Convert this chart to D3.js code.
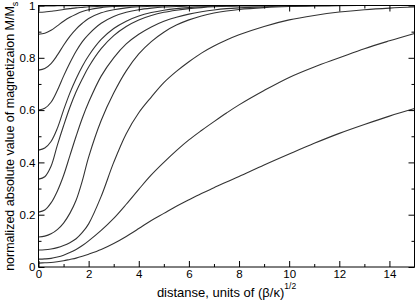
<!DOCTYPE html>
<html>
<head>
<meta charset="utf-8">
<script src="https://cdn.jsdelivr.net/npm/d3@7"></script>
<style>
  body { margin: 0; background: #fff; }
  text { font-family: "Liberation Sans", Arial, sans-serif; }
</style>
</head>
<body>
<script>
// distance samples (units of (beta/kappa)^1/2), shared by all curves
var xs = [0, 0.25, 0.5, 0.75, 1, 1.25, 1.5, 1.75, 2, 2.5, 3, 3.5, 4, 4.5,
          5, 5.5, 6, 6.5, 7, 7.5, 8, 9, 10, 11, 12, 13, 14, 15];

// |M|/Ms, one array per curve (bottom to top)
var c1 = [0.015, 0.016, 0.017, 0.020, 0.024, 0.029, 0.034, 0.041, 0.049,
          0.067, 0.090, 0.117, 0.147, 0.178, 0.205, 0.232, 0.257, 0.281,
          0.303, 0.325, 0.346, 0.390, 0.432, 0.473, 0.511, 0.545, 0.577,
          0.606];
var c2 = [0.030, 0.031, 0.033, 0.038, 0.045, 0.055, 0.067, 0.082, 0.100,
          0.140, 0.186, 0.240, 0.297, 0.352, 0.400, 0.445, 0.486, 0.522,
          0.556, 0.589, 0.620, 0.675, 0.725, 0.765, 0.800, 0.835, 0.865,
          0.893];
var c3 = [0.065, 0.066, 0.069, 0.074, 0.082, 0.093, 0.108, 0.132, 0.165,
          0.270, 0.400, 0.510, 0.590, 0.650, 0.705, 0.748, 0.785, 0.818,
          0.845, 0.868, 0.888, 0.920, 0.945, 0.962, 0.975, 0.984, 0.990,
          0.994];
var c4 = [0.115, 0.118, 0.127, 0.143, 0.168, 0.205, 0.255, 0.330, 0.420,
          0.560, 0.665, 0.750, 0.815, 0.862, 0.898, 0.925, 0.945, 0.960,
          0.971, 0.979, 0.985, 0.992, 0.996, 0.998, 0.999, 1, 1, 1];
var c5 = [0.210, 0.218, 0.245, 0.290, 0.350, 0.425, 0.500, 0.570, 0.630,
          0.730, 0.800, 0.853, 0.890, 0.918, 0.940, 0.955, 0.967, 0.976,
          0.983, 0.988, 0.991, 0.995, 0.998, 0.999, 1, 1, 1, 1];
var c6 = [0.336, 0.345, 0.385, 0.465, 0.540, 0.610, 0.670, 0.720, 0.765,
          0.835, 0.885, 0.920, 0.945, 0.962, 0.974, 0.982, 0.988, 0.992,
          0.995, 0.997, 0.998, 0.999, 1, 1, 1, 1, 1, 1];
var c7 = [0.447, 0.455, 0.480, 0.530, 0.600, 0.665, 0.720, 0.768, 0.808,
          0.870, 0.912, 0.940, 0.960, 0.973, 0.982, 0.988, 0.992, 0.995,
          0.997, 0.998, 0.999, 1, 1, 1, 1, 1, 1, 1];
var c8 = [0.600, 0.607, 0.630, 0.675, 0.730, 0.780, 0.825, 0.862, 0.890,
          0.932, 0.958, 0.974, 0.984, 0.990, 0.994, 0.996, 0.998, 0.999,
          1, 1, 1, 1, 1, 1, 1, 1, 1, 1];
var c9 = [0.753, 0.759, 0.778, 0.810, 0.848, 0.882, 0.910, 0.932, 0.950,
          0.972, 0.984, 0.991, 0.995, 0.997, 0.998, 0.999, 1, 1, 1, 1, 1,
          1, 1, 1, 1, 1, 1, 1];
var c10 = [0.890, 0.894, 0.905, 0.922, 0.940, 0.955, 0.967, 0.977, 0.984,
           0.992, 0.996, 0.998, 0.999, 1, 1, 1, 1, 1, 1, 1, 1, 1, 1, 1, 1,
           1, 1, 1];
var c11 = [0.974, 0.975, 0.978, 0.981, 0.985, 0.988, 0.991, 0.993, 0.995,
           0.997, 0.998, 0.999, 1, 1, 1, 1, 1, 1, 1, 1, 1, 1, 1, 1, 1, 1,
           1, 1];
var c12 = [0.998, 0.998, 0.998, 0.999, 0.999, 0.999, 0.999, 1, 1, 1, 1, 1,
           1, 1, 1, 1, 1, 1, 1, 1, 1, 1, 1, 1, 1, 1, 1, 1];

var curves = [c1, c2, c3, c4, c5, c6, c7, c8, c9, c10, c11, c12];

// tick values
var xMajor = [0, 2, 4, 6, 8, 10, 12, 14];
var xMinor = [1, 3, 5, 7, 9, 11, 13, 15];
var yMajor = [0, 0.2, 0.4, 0.6, 0.8, 1];
var yMinor = [0.1, 0.3, 0.5, 0.7, 0.9];

var margin = {top: 5.5, right: 0.5, bottom: 34, left: 38.5},
    width = 415 - margin.left - margin.right,
    height = 301 - margin.top - margin.bottom;

var svg = d3.select("body").append("svg")
    .attr("width", 415)
    .attr("height", 301)
    .append("g")
    .attr("transform", "translate(" + margin.left + "," + margin.top + ")");

var xScale = d3.scaleLinear().domain([0, 15]).range([0, width]);
var yScale = d3.scaleLinear().domain([0, 1]).range([height, 0]);

svg.append("clipPath").attr("id", "clip")
    .append("rect")
    .attr("width", width)
    .attr("height", height);

// the curves
var line = d3.line()
    .x(function(d, i) { return xScale(xs[i]); })
    .y(function(d) { return yScale(d); })
    .curve(d3.curveCatmullRom.alpha(0.5));

svg.append("g")
    .attr("clip-path", "url(#clip)")
    .selectAll("path")
    .data(curves)
    .enter()
    .append("path")
    .attr("d", line)
    .attr("fill", "none")
    .attr("stroke", "#333")
    .attr("stroke-width", 1.1);

// ticks on all four sides, pointing inwards
function addAxis(axis, tx, ty) {
    svg.append("g")
        .attr("transform", "translate(" + tx + "," + ty + ")")
        .call(axis)
        .call(function(g) {
            g.select(".domain").remove();
            g.selectAll("line").attr("stroke", "#000");
        });
}

var tickFont = function(g) {
    g.select(".domain").remove();
    g.selectAll("text")
        .attr("font-size", "11.5px")
        .attr("font-family", "Liberation Sans, Arial, sans-serif")
        .attr("fill", "#000");
    g.selectAll("line").attr("stroke", "#000");
};

// bottom
svg.append("g")
    .attr("transform", "translate(0," + height + ")")
    .call(d3.axisBottom(xScale).tickValues(xMajor).tickSizeInner(-6)
          .tickSizeOuter(0).tickPadding(3).tickFormat(d3.format("d")))
    .call(tickFont);
addAxis(d3.axisBottom(xScale).tickValues(xMinor).tickSize(-3)
        .tickFormat(""), 0, height);
// top
addAxis(d3.axisTop(xScale).tickValues(xMajor).tickSize(-6)
        .tickFormat(""), 0, 0);
addAxis(d3.axisTop(xScale).tickValues(xMinor).tickSize(-3)
        .tickFormat(""), 0, 0);
// left
svg.append("g")
    .call(d3.axisLeft(yScale).tickValues(yMajor).tickSizeInner(-6)
          .tickSizeOuter(0).tickPadding(3)
          .tickFormat(function(d) {
              return d === 0 || d === 1 ? d : d3.format(".1f")(d);
          }))
    .call(tickFont);
addAxis(d3.axisLeft(yScale).tickValues(yMinor).tickSize(-3)
        .tickFormat(""), 0, 0);
// right
addAxis(d3.axisRight(yScale).tickValues(yMajor).tickSize(-6)
        .tickFormat(""), width, 0);
addAxis(d3.axisRight(yScale).tickValues(yMinor).tickSize(-3)
        .tickFormat(""), width, 0);

// frame
svg.append("rect")
    .attr("width", width)
    .attr("height", height)
    .attr("fill", "none")
    .attr("stroke", "#000")
    .attr("stroke-width", 1);

// axis titles
var xTitle = svg.append("text")
    .attr("x", width / 2)
    .attr("y", height + 29.5)
    .attr("text-anchor", "middle")
    .attr("font-size", "13px");
xTitle.append("tspan").text("distanse, units of (\u03b2/\u03ba)");
xTitle.append("tspan").attr("dy", -8).attr("font-size", "8.5px").text("1/2");

var yTitle = svg.append("text")
    .attr("transform", "translate(" + (-25) + "," + (height / 2) +
          ") rotate(-90)")
    .attr("text-anchor", "middle")
    .attr("font-size", "12.5px");
yTitle.append("tspan").text("normalized absolute value of magnetizaion M/M");
yTitle.append("tspan").attr("dy", 4).attr("font-size", "9px").text("s");
</script>
</body>
</html>
